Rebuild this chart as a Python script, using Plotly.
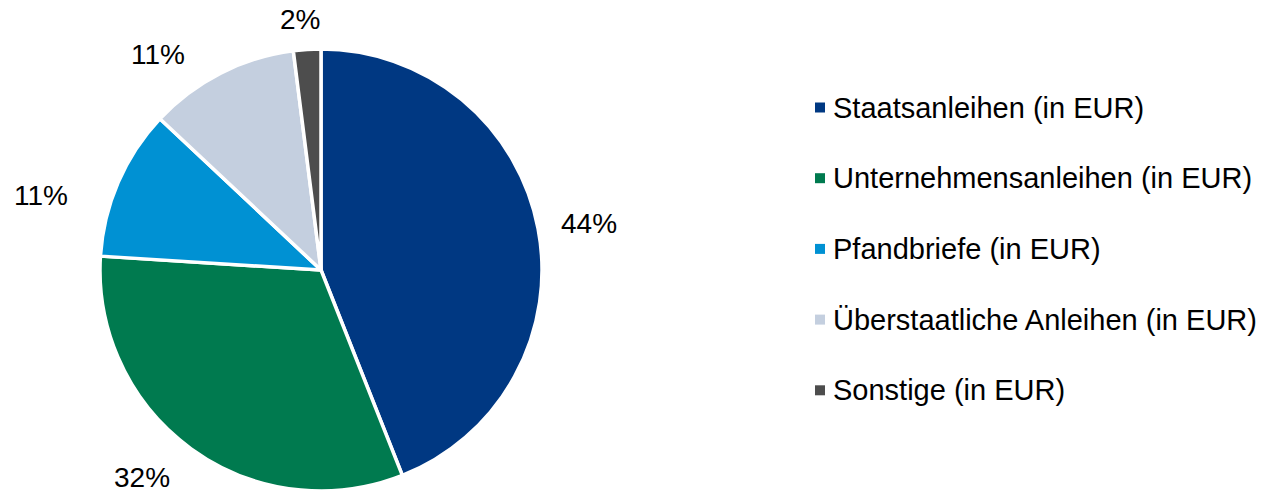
import math
import plotly.graph_objects as go

# Portfolio breakdown by asset class
categories = [
    "Staatsanleihen (in EUR)",
    "Unternehmensanleihen (in EUR)",
    "Pfandbriefe (in EUR)",
    "Überstaatliche Anleihen (in EUR)",
    "Sonstige (in EUR)",
]
shares = [44, 32, 11, 11, 2]
colors = ["#003882", "#007A4F", "#0091D3", "#C4CFDF", "#4D4D4D"]

W, H = 1264, 492
FONT = "Liberation Sans, Arial, sans-serif"

# Pie placement (pixels)
cx, cy, R = 321, 270, 221
# Small per-label nudges (pixels) applied after radial placement
label_nudge_px = [(7, 3), (-23, -7), (-37, 31), (-43, 21), (-4, 14)]

fig = go.Figure(
    go.Pie(
        labels=categories,
        values=shares,
        sort=False,
        direction="clockwise",
        rotation=0,
        marker=dict(colors=colors, line=dict(color="white", width=3.5)),
        textinfo="none",
        hoverinfo="label+percent",
        showlegend=False,
        domain=dict(x=[(cx - R) / W, (cx + R) / W], y=[1 - (cy + R) / H, 1 - (cy - R) / H]),
    )
)

annotations = []
shapes = []

# Percentage labels placed around the pie at each slice's mid angle
total = sum(shares)
cum = 0
for v, (dx, dy) in zip(shares, label_nudge_px):
    mid = (cum + v / 2) / total * 2 * math.pi
    cum += v
    px = cx + 1.2 * R * math.sin(mid) + dx
    py = cy - 1.2 * R * math.cos(mid) + dy
    annotations.append(dict(
        x=px / W, y=1 - py / H, xref="paper", yref="paper",
        text=f"{round(v / total * 100)}%", showarrow=False,
        xanchor="center", yanchor="middle",
        font=dict(family=FONT, size=28, color="#000000"),
    ))

# Legend drawn as square swatches with text
leg_x, leg_y0, leg_dy, sw = 815, 107.5, 70.7, 10
for i, (name, col) in enumerate(zip(categories, colors)):
    y = leg_y0 + i * leg_dy
    shapes.append(dict(
        type="rect", xref="paper", yref="paper",
        x0=leg_x / W, x1=(leg_x + sw) / W,
        y0=1 - (y + sw / 2) / H, y1=1 - (y - sw / 2) / H,
        fillcolor=col, line=dict(width=0),
    ))
    annotations.append(dict(
        x=(leg_x + 16) / W, y=1 - y / H, xref="paper", yref="paper",
        text=name, showarrow=False, xanchor="left", yanchor="middle",
        font=dict(family=FONT, size=29, color="#000000"),
    ))

fig.update_layout(
    width=W, height=H,
    margin=dict(l=0, r=0, t=0, b=0),
    paper_bgcolor="white", plot_bgcolor="white",
    annotations=annotations, shapes=shapes,
)

fig.write_html("out.html")
